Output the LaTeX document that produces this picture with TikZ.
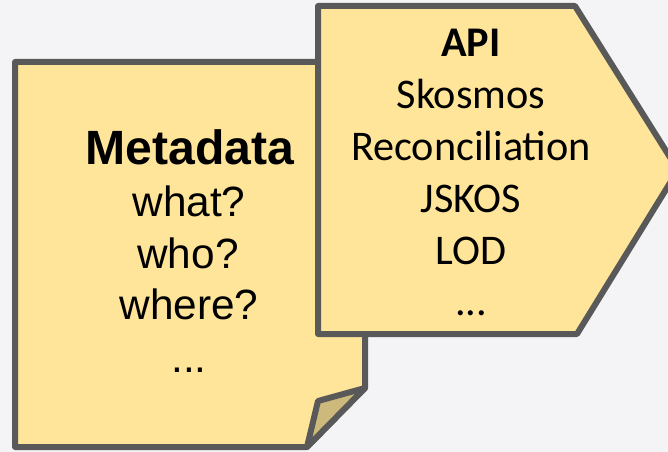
\documentclass[tikz,border=0pt]{standalone}
\usepackage{fontspec}
\newfontfamily\arialf{Liberation Sans}
\newfontfamily\calf{Carlito}
\definecolor{bgc}{HTML}{F4F3F5}
\definecolor{fillc}{HTML}{FFE599}
\definecolor{flapc}{HTML}{CDB97C}
\definecolor{edgec}{HTML}{595959}
\begin{document}
\begin{tikzpicture}[x=1bp,y=-1bp,
  shapeedge/.style={draw=edgec,line width=6bp,line join=round},
  lefttxt/.style={anchor=base,inner sep=0pt,font=\arialf\fontsize{42.5}{42.5}\selectfont},
  lefthead/.style={anchor=base,inner sep=0pt,font=\arialf\bfseries\fontsize{48.3}{48.3}\selectfont},
  righttxt/.style={anchor=base,inner sep=0pt,font=\calf\fontsize{42.4}{42.4}\selectfont},
  righthead/.style={anchor=base,inner sep=0pt,font=\calf\bfseries\fontsize{42.4}{42.4}\selectfont}]
\fill[bgc] (0,0) rectangle (668,452);
\useasboundingbox (0,0) rectangle (668,452);
% note
\draw[shapeedge,fill=fillc] (15,62) -- (365,62) -- (365,388) -- (307,447) -- (15,447) -- cycle;
\draw[shapeedge,fill=flapc] (365,388) -- (318,401) -- (307,447) -- cycle;
% pentagon
\draw[shapeedge,fill=fillc] (318,6) -- (575,6) -- (678,170) -- (577,334) -- (318,334) -- cycle;
% left text
\node[lefthead] (meta) at (190,165) {Metadata};
\node[lefttxt] (what) at (189,217) {what?};
\node[lefttxt] (who) at (188,269) {who?};
\node[lefttxt] (where) at (189,320) {where?};
\node[lefttxt] (ldots) at (189,372) {...};
% right text
\node[righthead] (api) at (471,57) {API};
\node[righttxt] (sko) at (471,109) {Skosmos};
\node[righttxt] (rec) at (471,161) {Reconciliation};
\node[righttxt] (jsk) at (471,213) {JSKOS};
\node[righttxt] (lod) at (471,264.5) {LOD};
\node[righttxt] (rdots) at (471,316) {...};
\end{tikzpicture}
\end{document}
